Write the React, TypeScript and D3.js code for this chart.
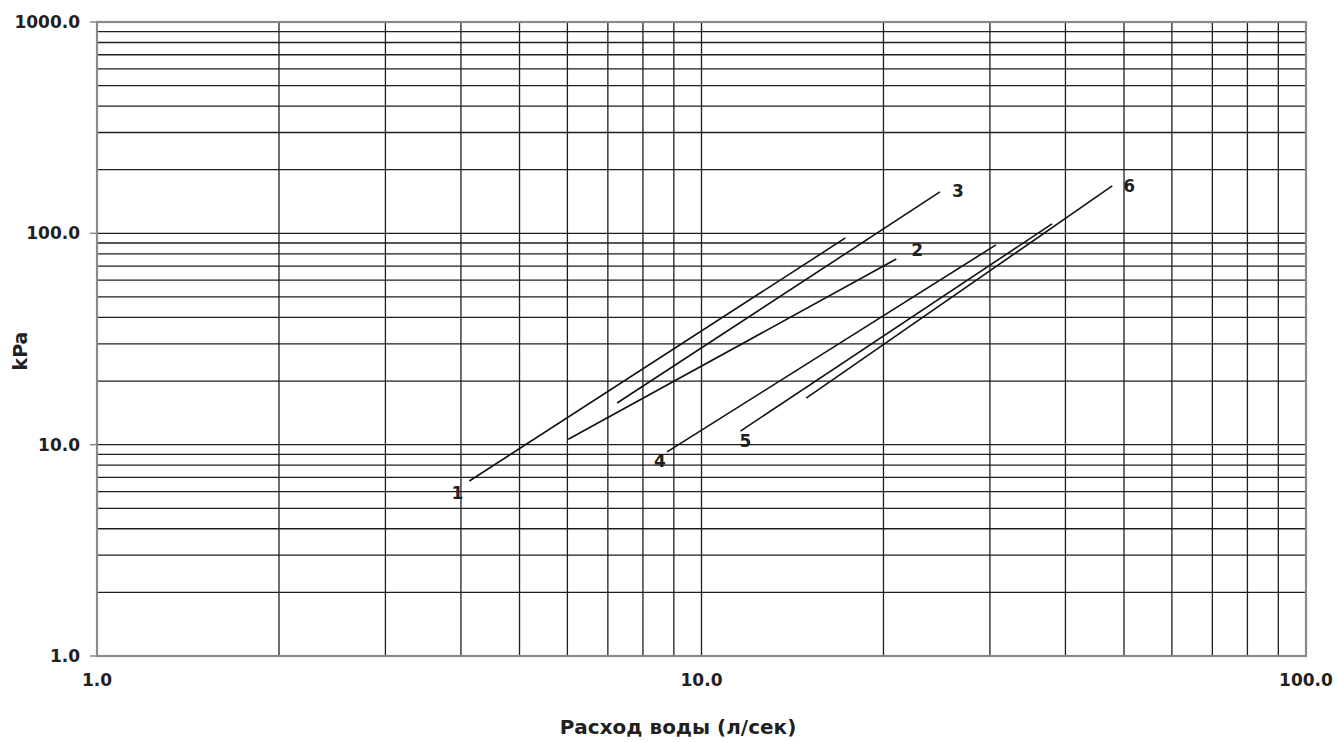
import * as d3 from "d3";

// axis ranges and labelled ticks
const flowDomain = [1, 100];
const kpaDomain = [1, 1000];
const flowTicks = [1, 10, 100];
const kpaTicks = [1, 10, 100, 1000];

// pressure-loss curves, one straight segment each (log-log)
const curveIds = ["1", "2", "3", "4", "5", "6"];
const flowStart = [4.13, 6.02, 7.25, 8.77, 11.6, 14.9];
const flowEnd = [17.3, 21.0, 24.8, 30.7, 38.0, 47.8];
const kpaStart = [6.73, 10.6, 15.75, 9.24, 11.6, 16.6];
const kpaEnd = [95.1, 75.6, 157, 88.2, 110.8, 167.6];

// where the number sits: at the start or end of its curve, with a pixel nudge
const labelAt = ["start", "end", "end", "start", "start", "end"];
const labelNudge: [number, number][] = [
  [-12, 12],
  [21, -9],
  [18, -1],
  [-7, 9],
  [5, 10],
  [17, 0],
];

const W = 1337;
const H = 742;
const margin = { top: 22, right: 31, bottom: 86, left: 97 };
const FONT = "'DejaVu Sans', Verdana, sans-serif";

export default function App() {
  const x = d3
    .scaleLog()
    .domain(flowDomain)
    .range([margin.left, W - margin.right]);
  const y = d3
    .scaleLog()
    .domain(kpaDomain)
    .range([H - margin.bottom, margin.top]);

  const [x0, x1] = x.range();
  const [y0, y1] = y.range();
  const fmt = d3.format(".1f");

  const line = d3
    .line<[number, number]>()
    .x((d) => x(d[0]))
    .y((d) => y(d[1]));

  const curves = curveIds.map((id, i) => ({
    id,
    pts: [
      [flowStart[i], kpaStart[i]],
      [flowEnd[i], kpaEnd[i]],
    ] as [number, number][],
  }));

  return (
    <div style={{ position: "fixed", left: 0, top: 0 }}>
      <svg width={W} height={H} style={{ display: "block", background: "#fff" }}>
        {/* grid */}
        <g stroke="#1e1e1e" strokeWidth={1.3}>
          {x.ticks().map((t) => (
            <line key={"gx" + t} x1={x(t)} x2={x(t)} y1={y1} y2={y0} />
          ))}
          {y.ticks().map((t) => (
            <line key={"gy" + t} x1={x0} x2={x1} y1={y(t)} y2={y(t)} />
          ))}
        </g>

        {/* frame */}
        <rect
          x={x0}
          y={y1}
          width={x1 - x0}
          height={y0 - y1}
          fill="none"
          stroke="#8a8a8a"
          strokeWidth={2.2}
        />

        {/* y ticks + labels */}
        <g fontFamily={FONT} fontWeight="bold" fontSize={17} fill="#231f20">
          {kpaTicks.map((t) => (
            <g key={"ty" + t}>
              <line x1={x0 - 7} x2={x0} y1={y(t)} y2={y(t)} stroke="#8a8a8a" strokeWidth={1.5} />
              <text x={80} y={y(t)} dy="0.36em" textAnchor="end">
                {fmt(t)}
              </text>
            </g>
          ))}
          {flowTicks.map((t) => (
            <text key={"tx" + t} x={x(t)} y={686} textAnchor="middle">
              {fmt(t)}
            </text>
          ))}
        </g>

        {/* curves */}
        <g fill="none" stroke="#111" strokeWidth={1.6}>
          {curves.map((c) => (
            <path key={c.id} d={line(c.pts) ?? ""} />
          ))}
        </g>

        {/* curve numbers */}
        <g fontFamily={FONT} fontWeight="bold" fontSize={17} fill="#231f20" textAnchor="middle">
          {curves.map((c, i) => {
            const p = labelAt[i] === "start" ? c.pts[0] : c.pts[1];
            return (
              <text
                key={"l" + c.id}
                x={x(p[0]) + labelNudge[i][0]}
                y={y(p[1]) + labelNudge[i][1]}
                dy="0.36em"
              >
                {c.id}
              </text>
            );
          })}
        </g>

        {/* axis titles */}
        <text
          x={678}
          y={734}
          textAnchor="middle"
          fontFamily={FONT}
          fontWeight="bold"
          fontSize={20}
          fill="#231f20"
        >
          Расход воды (л/сек)
        </text>
        <text
          transform={`translate(27,351) rotate(-90)`}
          textAnchor="middle"
          fontFamily={FONT}
          fontWeight="bold"
          fontSize={19}
          fill="#231f20"
        >
          kPa
        </text>
      </svg>
    </div>
  );
}
